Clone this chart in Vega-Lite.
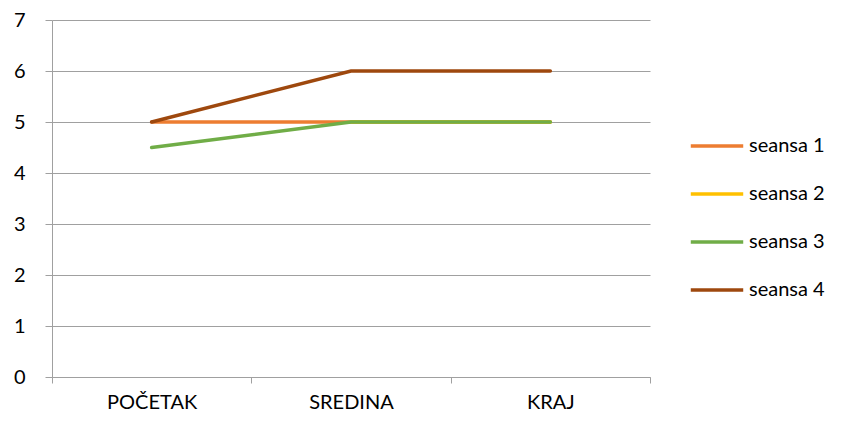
{
  "$schema": "https://vega.github.io/schema/vega-lite/v6.json",
  "autosize": {"type": "none"},
  "padding": {"left": 52, "top": 20, "right": 192, "bottom": 46},
  "width": 598,
  "height": 357,
  "background": "white",
  "data": {
    "values": [
      {"faza": "POČETAK", "serija": "seansa 1", "v": 5},
      {"faza": "SREDINA", "serija": "seansa 1", "v": 5},
      {"faza": "KRAJ", "serija": "seansa 1", "v": 5},
      {"faza": "POČETAK", "serija": "seansa 2", "v": null},
      {"faza": "SREDINA", "serija": "seansa 2", "v": 5},
      {"faza": "KRAJ", "serija": "seansa 2", "v": 5},
      {"faza": "POČETAK", "serija": "seansa 3", "v": 4.5},
      {"faza": "SREDINA", "serija": "seansa 3", "v": 5},
      {"faza": "KRAJ", "serija": "seansa 3", "v": 5},
      {"faza": "POČETAK", "serija": "seansa 4", "v": 5},
      {"faza": "SREDINA", "serija": "seansa 4", "v": 6},
      {"faza": "KRAJ", "serija": "seansa 4", "v": 6}
    ]
  },
  "mark": {"type": "line", "strokeWidth": 3.5, "strokeCap": "round"},
  "encoding": {
    "x": {
      "field": "faza", "type": "nominal", "sort": ["POČETAK", "SREDINA", "KRAJ"],
      "scale": {"type": "band", "paddingInner": 0, "paddingOuter": 0},
      "axis": {
        "title": null, "labelAngle": 0, "tickBand": "extent", "grid": false,
        "domainColor": "#a0a0a0", "tickColor": "#a0a0a0", "tickSize": 6,
        "labelFont": "Lato", "labelFontSize": 20, "labelColor": "#000000", "labelPadding": 9
      }
    },
    "y": {
      "field": "v", "type": "quantitative",
      "scale": {"domain": [0, 7], "nice": false},
      "axis": {
        "title": null, "values": [0,1,2,3,4,5,6,7], "labelOverlap": false,
        "gridColor": "#a0a0a0", "domainColor": "#a0a0a0", "tickColor": "#a0a0a0", "tickSize": 7,
        "labelFont": "Lato", "labelFontSize": 20, "labelColor": "#000000", "labelPadding": 20
      }
    },
    "color": {
      "field": "serija", "type": "nominal",
      "scale": {"domain": ["seansa 1", "seansa 2", "seansa 3", "seansa 4"], "range": ["#ED7D31", "#FFC000", "#70AD47", "#9E480E"]},
      "legend": {
        "title": null, "orient": "none", "legendX": 637, "legendY": 98,
        "symbolType": "stroke", "symbolSize": 2750, "symbolStrokeWidth": 3.5,
        "labelFont": "Lato", "labelFontSize": 20, "labelColor": "#000000", "labelOffset": 4, "rowPadding": 10
      }
    },
    "order": {"field": "serija"}
  },
  "config": {"view": {"stroke": null}}
}
